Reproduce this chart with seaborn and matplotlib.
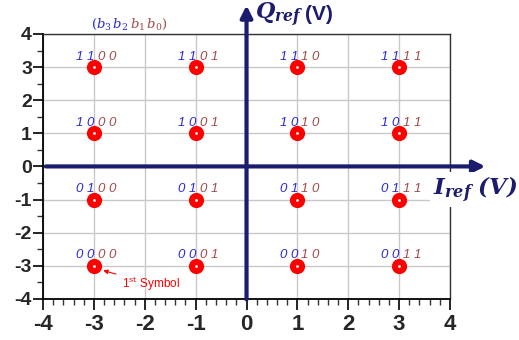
import numpy as np
import pandas as pd
import matplotlib
matplotlib.use("Agg")
import matplotlib.pyplot as plt
import seaborn as sns
from matplotlib.ticker import MultipleLocator

# constellation data (16-QAM)
i_levels = [-3, -1, 1, 3]
q_levels = [3, 1, -1, -3]
# b3 b2 depend on the row (Q), b1 b0 on the column (I)
row_bits = ["1 1", "1 0", "0 1", "0 0"]
col_bits = ["0 0", "0 1", "1 0", "1 1"]

x_ticks = [-4, -3, -2, -1, 0, 1, 2, 3, 4]
y_ticks = [-4, -3, -2, -1, 0, 1, 2, 3, 4]

NAVY = "#1c1c6e"
BLUE = "#2a2ad6"
BROWN = "#a24a4a"

rows = []
for q, hi in zip(q_levels, row_bits):
    for i, lo in zip(i_levels, col_bits):
        rows.append({"I": i, "Q": q, "hi": hi, "lo": lo})
df = pd.DataFrame(rows)

sns.set_style("white")
plt.rcParams["font.family"] = ["Liberation Sans", "DejaVu Sans"]
plt.rcParams["axes.unicode_minus"] = False
plt.rcParams["mathtext.fontset"] = "dejavuserif"

fig = plt.figure(figsize=(5.19, 3.4), dpi=100)
ax = fig.add_axes([0.083, 0.121, 0.784, 0.779])

sns.scatterplot(data=df, x="I", y="Q", s=120, color="red", edgecolor="red",
                linewidth=0, ax=ax, zorder=5)
sns.scatterplot(data=df, x="I", y="Q", s=4, color="white", linewidth=0,
                ax=ax, zorder=6)

for _, r in df.iterrows():
    ax.text(r["I"] + 0.01, r["Q"] + 0.31, r["hi"], color=BLUE, ha="right",
            va="center", fontsize=9.5, style="italic", zorder=7)
    ax.text(r["I"] + 0.08, r["Q"] + 0.31, r["lo"], color=BROWN, ha="left",
            va="center", fontsize=9.5, style="italic", zorder=7)

ax.set_xlim(-4, 4)
ax.set_ylim(-4, 4)
ax.set_xticks(x_ticks)
ax.set_yticks(y_ticks)
ax.xaxis.set_minor_locator(MultipleLocator(0.2))
ax.yaxis.set_minor_locator(MultipleLocator(0.5))
ax.grid(True, which="major", color="#c8c8c8", lw=1)
ax.tick_params(axis="x", which="major", labelsize=16, length=8, width=1.2,
               color="black", pad=3, direction="out", bottom=True)
ax.tick_params(axis="y", which="major", labelsize=14, length=7, width=1.2,
               color="black", pad=1, direction="out", left=True)
ax.tick_params(which="minor", length=4.5, width=1, color="#333333",
               direction="out", bottom=True, left=True)
plt.setp(ax.get_xticklabels() + ax.get_yticklabels(), fontweight="bold")
ax.set_xlabel("")
ax.set_ylabel("")

for side in ["left", "bottom"]:
    ax.spines[side].set_color("black")
    ax.spines[side].set_linewidth(1.3)
for side in ["top", "right"]:
    ax.spines[side].set_color("#333333")
    ax.spines[side].set_linewidth(1.0)

# coordinate arrows
ax.annotate("", xy=(4.75, 0), xytext=(-4, 0), annotation_clip=False,
            arrowprops=dict(arrowstyle="-|>,head_length=0.7,head_width=0.35",
                            color=NAVY, lw=3), zorder=8)
ax.annotate("", xy=(0, 4.95), xytext=(0, -4.1), annotation_clip=False,
            arrowprops=dict(arrowstyle="-|>,head_length=0.7,head_width=0.35",
                            color=NAVY, lw=3), zorder=8)

ax.text(0.16, 4.57, r"$\mathbfit{Q_{ref}}$", color=NAVY, fontsize=16,
        ha="left", va="center", clip_on=False)
ax.text(1.15, 4.6, "(V)", color=NAVY, fontsize=15, fontweight="bold",
        ha="left", va="center", clip_on=False)
ax.text(3.66, -0.7, r"$\mathbfit{I_{ref}\ (V)}$", color=NAVY, fontsize=16.5,
        ha="left", va="center", clip_on=False, zorder=9,
        bbox=dict(facecolor="white", edgecolor="none", pad=2))

ax.text(-2.32, 4.3, r"$(b_3\,b_2$", color=BLUE, fontsize=9.5, ha="right",
        va="center", style="italic", clip_on=False)
ax.text(-2.3, 4.3, r"$b_1\,b_0)$", color=BROWN, fontsize=9.5, ha="left",
        va="center", style="italic", clip_on=False)

ax.annotate(r"1$^{\rm st}$ Symbol", xy=(-2.87, -3.12), xytext=(-2.45, -3.55),
            color="red", fontsize=8.5, ha="left", va="center",
            arrowprops=dict(arrowstyle="-|>,head_length=0.3,head_width=0.15",
                            color="red", lw=0.8))

fig.savefig("out.png", dpi=100)
